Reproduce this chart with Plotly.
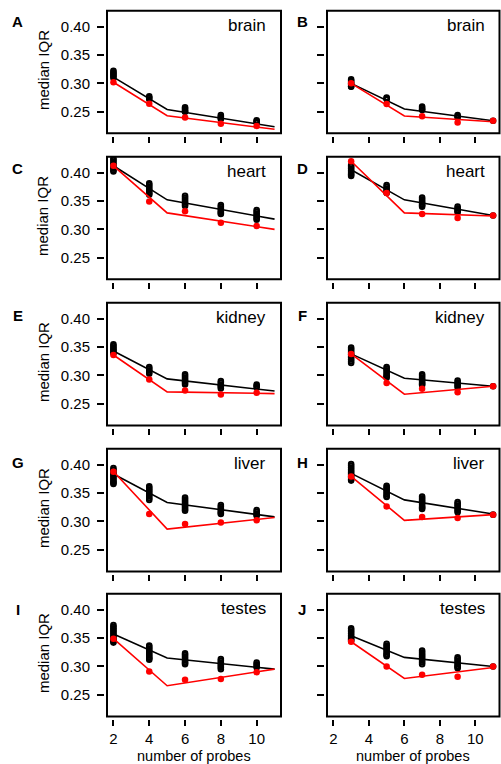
import plotly.graph_objects as go

# ---------------- data ----------------
TISSUES = ["brain", "heart", "kidney", "liver", "testes"]
LETTERS_LEFT = ["A", "C", "E", "G", "I"]
LETTERS_RIGHT = ["B", "D", "F", "H", "J"]
X_LEFT = [2, 4, 6, 8, 10]
X_RIGHT = [3, 5, 7, 9, 11]
FIT_X_LEFT = [2, 5, 11]
FIT_X_RIGHT = [3, 6, 11]
X_TICKS = [2, 4, 6, 8, 10]
Y_TICKS = [0.25, 0.30, 0.35, 0.40]
Y_TICK_LABELS = ["0.25", "0.30", "0.35", "0.40"]

# black: resampled medians (one list per x position); red: observed; fits: piecewise lines
BLACK_A = [[0.322, 0.3195, 0.317, 0.3145, 0.312, 0.3095],
           [0.277, 0.2745, 0.272],
           [0.258, 0.2555, 0.253, 0.2505, 0.250],
           [0.244, 0.2415, 0.239, 0.237],
           [0.235, 0.233, 0.231]]
RED_A = [0.302, 0.264, 0.240, 0.229, 0.225]
FIT_BLACK_A = [0.311, 0.254, 0.2235]
FIT_RED_A = [0.302, 0.243, 0.219]

BLACK_B = [[0.307, 0.3045, 0.302, 0.2995, 0.297, 0.2945, 0.294],
           [0.275, 0.2735, 0.272],
           [0.259, 0.2565, 0.254, 0.253],
           [0.244, 0.242, 0.240],
           [0.234]]
RED_B = [0.300, 0.2635, 0.242, 0.231, 0.234]
FIT_BLACK_B = [0.300, 0.2547, 0.234]
FIT_RED_B = [0.300, 0.2424, 0.2324]

BLACK_C = [[0.425, 0.422, 0.419, 0.416, 0.413, 0.410, 0.407, 0.404, 0.402],
           [0.381, 0.378, 0.375, 0.372, 0.369, 0.366, 0.363, 0.361],
           [0.359, 0.356, 0.353, 0.350, 0.347, 0.344, 0.341],
           [0.343, 0.340, 0.337, 0.334, 0.331, 0.329, 0.327],
           [0.334, 0.331, 0.328, 0.325, 0.322, 0.319, 0.317]]
RED_C = [0.412, 0.349, 0.332, 0.3117, 0.306]
FIT_BLACK_C = [0.412, 0.352, 0.318]
FIT_RED_C = [0.412, 0.329, 0.300]

BLACK_D = [[0.413, 0.410, 0.407, 0.404, 0.401, 0.398, 0.396, 0.394],
           [0.378, 0.375, 0.372, 0.369, 0.366, 0.364],
           [0.356, 0.353, 0.350, 0.347, 0.344, 0.342, 0.340],
           [0.340, 0.337, 0.334, 0.332, 0.330],
           [0.3245]]
RED_D = [0.420, 0.364, 0.327, 0.320, 0.3245]
FIT_BLACK_D = [0.405, 0.352, 0.3245]
FIT_RED_D = [0.420, 0.329, 0.3235]

BLACK_E = [[0.355, 0.352, 0.349, 0.346, 0.344, 0.341, 0.339],
           [0.315, 0.312, 0.309, 0.306, 0.303],
           [0.302, 0.299, 0.296, 0.293, 0.290, 0.287, 0.284],
           [0.290, 0.287, 0.284, 0.282, 0.280, 0.277],
           [0.284, 0.2815, 0.279]]
RED_E = [0.336, 0.293, 0.2735, 0.2665, 0.2695]
FIT_BLACK_E = [0.343, 0.294, 0.2725]
FIT_RED_E = [0.336, 0.271, 0.268]

BLACK_F = [[0.349, 0.346, 0.343, 0.340, 0.337, 0.334, 0.331, 0.328, 0.325, 0.322],
           [0.315, 0.312, 0.309, 0.306, 0.303, 0.300, 0.298, 0.296],
           [0.302, 0.299, 0.296, 0.293, 0.290, 0.287, 0.285, 0.283],
           [0.291, 0.288, 0.285, 0.282, 0.279],
           [0.281]]
RED_F = [0.338, 0.2865, 0.2765, 0.2706, 0.281]
FIT_BLACK_F = [0.338, 0.295, 0.281]
FIT_RED_F = [0.338, 0.267, 0.281]

BLACK_G = [[0.394, 0.391, 0.388, 0.385, 0.382, 0.379, 0.376, 0.373, 0.370, 0.368, 0.366],
           [0.362, 0.359, 0.356, 0.353, 0.350, 0.347, 0.344, 0.341, 0.338],
           [0.342, 0.339, 0.336, 0.333, 0.330, 0.327, 0.324, 0.321, 0.319],
           [0.329, 0.326, 0.323, 0.320, 0.317, 0.315, 0.313],
           [0.320, 0.317, 0.314, 0.312, 0.310]]
RED_G = [0.3875, 0.313, 0.2955, 0.298, 0.302]
FIT_BLACK_G = [0.3835, 0.3335, 0.308]
FIT_RED_G = [0.388, 0.2865, 0.307]

BLACK_H = [[0.401, 0.398, 0.395, 0.392, 0.389, 0.386, 0.383, 0.380, 0.377, 0.374, 0.372],
           [0.363, 0.360, 0.357, 0.354, 0.351, 0.348, 0.345, 0.343],
           [0.344, 0.341, 0.338, 0.335, 0.332, 0.329, 0.326, 0.324, 0.322],
           [0.334, 0.331, 0.328, 0.325, 0.322, 0.319, 0.316],
           [0.312]]
RED_H = [0.3794, 0.3265, 0.308, 0.306, 0.312]
FIT_BLACK_H = [0.3847, 0.338, 0.313]
FIT_RED_H = [0.3794, 0.302, 0.312]

BLACK_I = [[0.373, 0.370, 0.367, 0.364, 0.361, 0.358, 0.355, 0.352, 0.349, 0.346, 0.344, 0.342],
           [0.337, 0.334, 0.331, 0.328, 0.325, 0.322, 0.319, 0.316, 0.314, 0.312],
           [0.323, 0.320, 0.317, 0.314, 0.311, 0.308, 0.306, 0.304],
           [0.313, 0.310, 0.307, 0.304, 0.301, 0.298, 0.295],
           [0.307, 0.304, 0.301, 0.298]]
RED_I = [0.349, 0.291, 0.2765, 0.278, 0.290]
FIT_BLACK_I = [0.357, 0.315, 0.2953]
FIT_RED_I = [0.349, 0.266, 0.2953]

BLACK_J = [[0.367, 0.364, 0.361, 0.358, 0.355, 0.352, 0.349, 0.347, 0.345],
           [0.340, 0.337, 0.334, 0.331, 0.328, 0.325, 0.322, 0.320, 0.318],
           [0.328, 0.325, 0.322, 0.319, 0.316, 0.313, 0.310, 0.307, 0.304],
           [0.316, 0.313, 0.310, 0.307, 0.304, 0.301, 0.299, 0.297],
           [0.300]]
RED_J = [0.3435, 0.300, 0.2853, 0.2818, 0.300]
FIT_BLACK_J = [0.354, 0.316, 0.300]
FIT_RED_J = [0.3435, 0.2788, 0.2982]

LEFT = [(BLACK_A, RED_A, FIT_BLACK_A, FIT_RED_A),
        (BLACK_C, RED_C, FIT_BLACK_C, FIT_RED_C),
        (BLACK_E, RED_E, FIT_BLACK_E, FIT_RED_E),
        (BLACK_G, RED_G, FIT_BLACK_G, FIT_RED_G),
        (BLACK_I, RED_I, FIT_BLACK_I, FIT_RED_I)]
RIGHT = [(BLACK_B, RED_B, FIT_BLACK_B, FIT_RED_B),
         (BLACK_D, RED_D, FIT_BLACK_D, FIT_RED_D),
         (BLACK_F, RED_F, FIT_BLACK_F, FIT_RED_F),
         (BLACK_H, RED_H, FIT_BLACK_H, FIT_RED_H),
         (BLACK_J, RED_J, FIT_BLACK_J, FIT_RED_J)]

# ---------------- layout geometry (pixels) ----------------
W, H = 501, 764
COL_X = [(107.0, 281.0), (327.0, 499.5)]
ROW_TOP = [10.7, 156.7, 302.8, 448.8, 593.8]
LETTER_Y = [21.5, 168.0, 315.0, 462.0, 609.0]
LETTER_X = [17.5, 302.0]
PANEL_H = 122.6
FONT = "Liberation Sans, Arial, Helvetica, sans-serif"

fig = go.Figure()
layout = dict(width=W, height=H, margin=dict(l=0, r=0, t=0, b=0),
              paper_bgcolor="white", plot_bgcolor="white", showlegend=False,
              font=dict(family=FONT, size=15, color="black"))
annotations = []
shapes = []

idx = 0
for r in range(5):
    for c in range(2):
        idx += 1
        xa = "x" if idx == 1 else f"x{idx}"
        ya = "y" if idx == 1 else f"y{idx}"
        xkey = "xaxis" if idx == 1 else f"xaxis{idx}"
        ykey = "yaxis" if idx == 1 else f"yaxis{idx}"
        x0p, x1p = COL_X[c]
        top = ROW_TOP[r]
        bot = top + PANEL_H
        xs_pts = X_LEFT if c == 0 else X_RIGHT
        fit_x = FIT_X_LEFT if c == 0 else FIT_X_RIGHT
        black, red, fb, fr = (LEFT if c == 0 else RIGHT)[r]

        bx, by = [], []
        for xv, col in zip(xs_pts, black):
            for v in col:
                bx.append(xv)
                by.append(v)
        fig.add_trace(go.Scatter(x=bx, y=by, mode="markers", xaxis=xa, yaxis=ya,
                                 marker=dict(symbol="circle-open", size=4.6, color="black",
                                             line=dict(width=2.0, color="black"))))
        fig.add_trace(go.Scatter(x=fit_x, y=fb, mode="lines", xaxis=xa, yaxis=ya,
                                 line=dict(color="black", width=1.6)))
        fig.add_trace(go.Scatter(x=fit_x, y=fr, mode="lines", xaxis=xa, yaxis=ya,
                                 line=dict(color="#ff0000", width=1.6)))
        fig.add_trace(go.Scatter(x=xs_pts, y=red, mode="markers", xaxis=xa, yaxis=ya,
                                 marker=dict(symbol="circle", size=6.5, color="#ff0000")))

        layout[xkey] = dict(domain=[x0p / W, x1p / W], range=[1.64, 11.36],
                            anchor="free", position=1 - (bot + 2.5) / H,
                            tickmode="array", tickvals=X_TICKS,
                            ticktext=[str(t) for t in X_TICKS],
                            showticklabels=(r == 4), ticks="outside", ticklen=6.5,
                            tickwidth=1.5, tickcolor="black", showline=False,
                            showgrid=False, zeroline=False,
                            tickfont=dict(size=15, family=FONT), ticklabelstandoff=0)
        layout[ykey] = dict(domain=[1 - bot / H, 1 - top / H], range=[0.212, 0.428],
                            anchor="free", position=(x0p - 3) / W,
                            tickmode="array", tickvals=Y_TICKS, ticktext=Y_TICK_LABELS,
                            showticklabels=(c == 0), ticks="outside", ticklen=7,
                            tickwidth=1.5, tickcolor="black", showline=False,
                            showgrid=False, zeroline=False,
                            tickfont=dict(size=15, family=FONT), ticklabelstandoff=4)

        shapes.append(dict(type="rect", xref=f"{xa} domain", yref=f"{ya} domain",
                           x0=0, x1=1, y0=0, y1=1, line=dict(color="black", width=2),
                           layer="above"))
        # tissue label
        annotations.append(dict(text=TISSUES[r], xref=f"{xa} domain", yref=ya,
                                x=1, y=0.40, xanchor="right", yanchor="middle",
                                xshift=-13, yshift=1, showarrow=False,
                                font=dict(size=17, family=FONT)))
        # panel letter
        letter = LETTERS_LEFT[r] if c == 0 else LETTERS_RIGHT[r]
        annotations.append(dict(text=f"<b>{letter}</b>", xref="paper", yref="paper",
                                x=LETTER_X[c] / W, y=1 - LETTER_Y[r] / H, xanchor="center",
                                yanchor="middle", showarrow=False,
                                font=dict(size=15, family=FONT)))
        if c == 0:
            annotations.append(dict(text="median IQR", xref="paper", yref="paper",
                                    x=43 / W, y=1 - (top + PANEL_H / 2 - 2) / H,
                                    xanchor="center", yanchor="middle", textangle=-90,
                                    showarrow=False, font=dict(size=15, family=FONT)))
        if r == 4:
            annotations.append(dict(text="number of probes", xref="paper", yref="paper",
                                    x=(x0p + x1p) / 2 / W, y=1 - 755.5 / H,
                                    xanchor="center", yanchor="middle",
                                    showarrow=False, font=dict(size=14.5, family=FONT)))

layout["annotations"] = annotations
layout["shapes"] = shapes
fig.update_layout(**layout)
fig.write_html("out.html", config={"displayModeBar": False},
               post_script="document.body.style.margin='0px';"
                           "document.body.style.overflow='hidden';")
